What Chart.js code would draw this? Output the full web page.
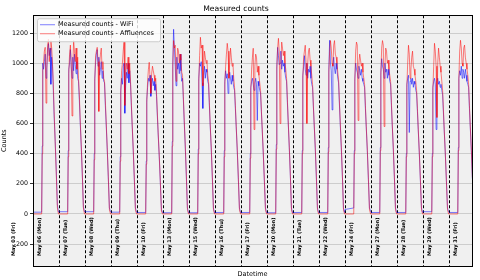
<!DOCTYPE html>
<html lang="en">
<head>
    <meta charset="UTF-8">
    <title>Measured counts</title>
    <script src="https://cdn.jsdelivr.net/npm/chart.js"></script>
    <style>
        body { margin: 0; background: #fff; }
    </style>
</head>
<body>
    <div style="width: 480px; height: 280px;">
        <canvas id="grafico"></canvas>
    </div>

    <script>
        // one label per day shown; the first (May 03) sits left of the first day
        const dayLabels = ['May 03 (Fri)', 'May 06 (Mon)', 'May 07 (Tue)', 'May 08 (Wed)', 'May 09 (Thu)',
            'May 10 (Fri)', 'May 13 (Mon)', 'May 15 (Wed)', 'May 16 (Thu)', 'May 17 (Fri)', 'May 20 (Mon)',
            'May 21 (Tue)', 'May 22 (Wed)', 'May 24 (Fri)', 'May 27 (Mon)', 'May 28 (Tue)', 'May 29 (Wed)',
            'May 31 (Fri)'];

        // sample hours within each day
        const hours = [0, 8, 8.5, 9, 9.75, 10.5, 11.25, 12, 12.75, 13.5, 14.25, 15, 15.75, 16.5, 17.25,
            18, 18.75, 19.5, 20.5, 21.5, 22.5, 23.5];

        // WiFi counts, one row per day
        const wifi = [
            [12, 12, 450, 1000, 960, 1010, 1060, 900, 970, 1090, 1130, 1050, 1100, 860, 1040, 980, 820, 650, 480, 280, 60, 12],
            [15, 15, 420, 960, 1000, 1090, 980, 900, 1040, 950, 1060, 990, 930, 1010, 900, 880, 760, 620, 450, 260, 50, 15],
            [15, 15, 400, 900, 1000, 1060, 1090, 980, 1040, 920, 960, 1010, 900, 950, 880, 870, 720, 600, 430, 240, 40, 15],
            [12, 12, 380, 820, 900, 860, 980, 1000, 668, 850, 940, 900, 1000, 870, 950, 860, 720, 590, 420, 230, 40, 12],
            [10, 10, 350, 760, 840, 900, 880, 920, 780, 860, 900, 850, 880, 820, 860, 780, 650, 530, 380, 210, 30, 10],
            [8, 8, 480, 1000, 1225, 1100, 980, 850, 1040, 960, 1000, 930, 1060, 950, 880, 900, 760, 620, 450, 250, 40, 8],
            [8, 8, 430, 900, 1000, 980, 1010, 870, 700, 920, 980, 900, 960, 940, 880, 860, 720, 590, 430, 240, 40, 8],
            [10, 10, 420, 880, 950, 900, 930, 800, 870, 940, 900, 860, 920, 880, 840, 820, 700, 580, 420, 230, 40, 10],
            [10, 10, 400, 840, 880, 900, 860, 820, 870, 900, 860, 620, 880, 850, 820, 800, 680, 560, 400, 220, 40, 10],
            [8, 8, 460, 980, 1105, 1050, 990, 1000, 1080, 960, 1020, 980, 1000, 940, 900, 880, 740, 610, 440, 250, 40, 8],
            [10, 10, 420, 920, 980, 1050, 960, 920, 1000, 900, 960, 940, 980, 900, 860, 840, 710, 590, 430, 240, 40, 10],
            [10, 10, 440, 960, 1152, 1000, 950, 690, 980, 1040, 960, 930, 1000, 960, 900, 870, 730, 600, 440, 250, 40, 10],
            [30, 40, 420, 900, 1000, 960, 940, 900, 980, 950, 920, 960, 900, 880, 860, 840, 700, 580, 420, 230, 40, 20],
            [10, 10, 440, 940, 1030, 980, 960, 900, 1000, 940, 960, 900, 960, 920, 880, 860, 720, 590, 430, 240, 40, 10],
            [10, 10, 400, 860, 900, 920, 540, 880, 900, 860, 900, 840, 880, 860, 820, 800, 680, 560, 400, 220, 40, 10],
            [15, 15, 400, 840, 880, 900, 860, 560, 880, 900, 860, 880, 840, 860, 820, 790, 670, 550, 400, 220, 40, 15],
            [10, 10, 440, 900, 950, 920, 980, 900, 960, 940, 900, 960, 920, 880, 860, 840, 700, 580, 420, 230, 40, 10]
        ];

        // Affluences counts, one row per day
        const affluences = [
            [0, 0, 400, 950, 1010, 1080, 1105, 735, 960, 1120, 1160, 1010, 1090, 1150, 1100, 1000, 860, 680, 470, 260, 40, 0],
            [0, 0, 380, 930, 1060, 1120, 1010, 650, 980, 1150, 1080, 1010, 1100, 960, 1040, 900, 790, 640, 460, 270, 40, 0],
            [0, 0, 360, 880, 1050, 1080, 1105, 1010, 680, 1000, 1060, 1100, 960, 1010, 900, 880, 750, 620, 440, 250, 30, 0],
            [0, 0, 350, 800, 950, 1000, 1080, 1140, 720, 900, 1000, 960, 1040, 930, 1000, 880, 740, 600, 430, 240, 30, 0],
            [0, 0, 330, 740, 880, 960, 1006, 900, 800, 930, 980, 950, 920, 880, 900, 800, 670, 540, 390, 220, 20, 0],
            [0, 0, 450, 980, 1150, 1100, 1119, 880, 1000, 1100, 1080, 1000, 1060, 1020, 940, 920, 780, 640, 460, 260, 30, 0],
            [0, 0, 400, 880, 1050, 1172, 1100, 1120, 850, 960, 1080, 1040, 1000, 1020, 920, 880, 740, 600, 440, 250, 30, 0],
            [0, 0, 380, 860, 980, 1060, 1132, 1080, 900, 1000, 1100, 1040, 980, 1000, 900, 840, 720, 590, 430, 240, 30, 0],
            [0, 0, 370, 820, 960, 1040, 1099, 560, 980, 1060, 1040, 940, 980, 920, 870, 820, 690, 570, 410, 230, 30, 0],
            [0, 0, 430, 960, 1100, 1165, 1080, 600, 1000, 1140, 1100, 1050, 1080, 1000, 960, 900, 760, 620, 450, 260, 30, 0],
            [0, 0, 400, 900, 1040, 1080, 1119, 1000, 600, 1000, 1080, 1100, 1020, 980, 920, 860, 720, 600, 440, 250, 30, 0],
            [0, 0, 410, 940, 1080, 1150, 1100, 1000, 980, 1120, 1150, 1060, 1040, 1000, 940, 890, 750, 620, 450, 260, 30, 0],
            [0, 0, 400, 880, 1080, 1140, 1120, 620, 1000, 1060, 1020, 980, 1000, 940, 900, 860, 720, 590, 430, 240, 30, 0],
            [0, 0, 420, 920, 1100, 1150, 1120, 580, 980, 1100, 1080, 1000, 1020, 960, 920, 880, 740, 600, 440, 250, 30, 0],
            [0, 0, 380, 840, 1000, 1119, 1060, 900, 960, 1040, 1080, 980, 960, 920, 880, 820, 700, 570, 410, 230, 30, 0],
            [0, 0, 380, 820, 980, 1132, 1080, 980, 640, 1000, 1100, 1040, 980, 940, 880, 820, 690, 560, 400, 220, 30, 0],
            [0, 0, 420, 900, 1080, 1152, 1100, 1000, 980, 1100, 1120, 1040, 1000, 960, 920, 860, 720, 590, 430, 240, 30, 0]
        ];

        const yStep = 200;

        // days laid end to end, 24 units each
        function toPoints(rows) {
            const pts = [];
            rows.forEach((row, d) => {
                row.forEach((v, i) => pts.push({ x: d * 24 + hours[i], y: v }));
            });
            return pts;
        }

        const fonte = 'DejaVu Sans';

        const fundo = {
            id: 'fundo',
            beforeDraw(chart) {
                const { ctx, chartArea: a } = chart;
                ctx.save();
                ctx.fillStyle = '#f0f0f0';
                ctx.fillRect(a.left, a.top, a.right - a.left, a.bottom - a.top);
                ctx.restore();
            }
        };

        const extras = {
            id: 'extras',
            afterDraw(chart) {
                const { ctx, chartArea: a } = chart;
                const xs = chart.scales.x;
                ctx.save();

                // day labels, rotated, inside the plot near the bottom
                ctx.fillStyle = '#000';
                ctx.font = 'bold 5px "' + fonte + '"';
                ctx.textAlign = 'left';
                ctx.textBaseline = 'middle';
                dayLabels.forEach((lbl, i) => {
                    const px = xs.getPixelForValue((i - 1) * 24 + 6.5);
                    ctx.save();
                    ctx.translate(px, a.bottom - 10);
                    ctx.rotate(-Math.PI / 2);
                    ctx.fillText(lbl, 0, 0);
                    ctx.restore();
                });

                // frame
                ctx.strokeStyle = '#000';
                ctx.lineWidth = 1;
                ctx.strokeRect(Math.round(a.left) + 0.5, Math.round(a.top) + 0.5,
                    Math.round(a.right - a.left), Math.round(a.bottom - a.top));

                // legend
                const lx = a.left + 4, ly = a.top + 3, lw = 123, lh = 23;
                ctx.fillStyle = 'rgba(255,255,255,0.8)';
                ctx.strokeStyle = '#cccccc';
                ctx.beginPath();
                ctx.roundRect(lx + 0.5, ly + 0.5, lw, lh, 2);
                ctx.fill();
                ctx.stroke();
                ctx.font = '6.5px "' + fonte + '"';
                ctx.fillStyle = '#000';
                chart.data.datasets.forEach((ds, i) => {
                    const y = ly + 6.5 + i * 9;
                    ctx.strokeStyle = ds.borderColor;
                    ctx.lineWidth = 1;
                    ctx.beginPath();
                    ctx.moveTo(lx + 3, y);
                    ctx.lineTo(lx + 18, y);
                    ctx.stroke();
                    ctx.fillText(ds.label, lx + 21, y);
                });
                ctx.restore();
            }
        };

        const ctx = document.getElementById('grafico');

        new Chart(ctx, {
            type: 'line',
            data: {
                datasets: [{
                    label: 'Measured counts - WiFi',
                    data: toPoints(wifi),
                    borderColor: 'rgba(0,0,255,0.5)',
                    borderWidth: 1,
                    pointRadius: 0,
                    tension: 0,
                    order: 1
                }, {
                    label: 'Measured counts - Affluences',
                    data: toPoints(affluences),
                    borderColor: 'rgba(255,0,0,0.5)',
                    borderWidth: 1,
                    pointRadius: 0,
                    tension: 0,
                    order: 0
                }]
            },
            options: {
                animation: false,
                responsive: true,
                maintainAspectRatio: false,
                layout: { padding: { left: 0, right: 8, top: 0, bottom: 0 } },
                plugins: {
                    legend: { display: false },
                    tooltip: { enabled: false },
                    title: {
                        display: true,
                        text: 'Measured counts',
                        color: '#000',
                        font: { family: fonte, size: 7.7, weight: 'normal' },
                        padding: { top: 4, bottom: 2 }
                    }
                },
                scales: {
                    x: {
                        type: 'linear',
                        min: 0,
                        max: 16.88 * 24,
                        afterFit: s => { s.height = 14; },
                        ticks: { display: false, stepSize: 24, includeBounds: false },
                        grid: { color: '#000', lineWidth: 1, drawTicks: false },
                        border: { display: false, dash: [3, 2] },
                        title: {
                            display: true,
                            text: 'Datetime',
                            color: '#000',
                            font: { family: fonte, size: 6.5 },
                            padding: { top: 0, bottom: 2 }
                        }
                    },
                    y: {
                        min: -345,
                        max: 1318,
                        afterFit: s => { s.width = 33; },
                        ticks: {
                            color: '#000',
                            padding: 2,
                            autoSkip: false,
                            stepSize: yStep,
                            includeBounds: false,
                            font: { family: fonte, size: 6.3 },
                            callback: v => String(v)
                        },
                        grid: { color: '#c4c4c4', lineWidth: 0.8, tickColor: '#000', tickLength: 3 },
                        border: { display: false },
                        title: {
                            display: true,
                            text: 'Counts',
                            color: '#000',
                            font: { family: fonte, size: 6.5 },
                            padding: { top: 0, bottom: 4 }
                        }
                    }
                }
            },
            plugins: [fundo, extras]
        });
    </script>
</body>
</html>
